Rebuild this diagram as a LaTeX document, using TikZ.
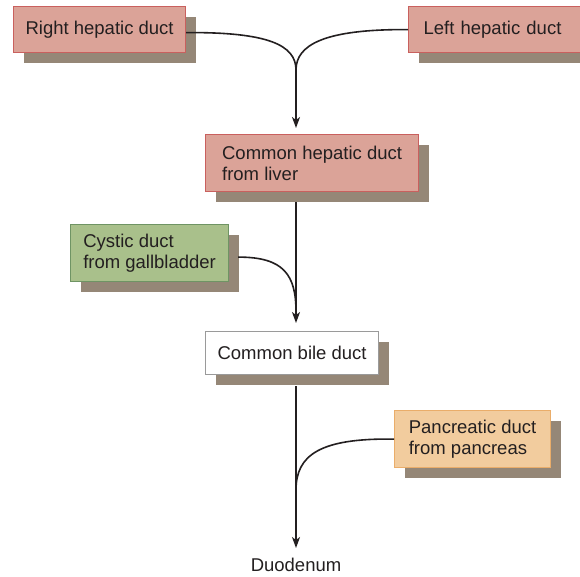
\documentclass[tikz,border=0pt]{standalone}
\usepackage{fontspec}
\setmainfont{Liberation Sans}
\usetikzlibrary{arrows.meta,shadows}

\definecolor{inktext}{HTML}{231F20}
\definecolor{shadowbrown}{HTML}{958777}
\definecolor{liverred}{HTML}{DBA398}
\definecolor{liverline}{HTML}{C9605E}
\definecolor{gallgreen}{HTML}{A9C08B}
\definecolor{gallline}{HTML}{6F9464}
\definecolor{pancorange}{HTML}{F2CC9E}
\definecolor{pancline}{HTML}{EAAD6A}
\definecolor{bileline}{HTML}{9A9A9A}

\begin{document}
\begin{tikzpicture}[x=1pt,y=-1pt,
    font=\fontsize{18.5}{21}\selectfont,
    duct/.style={draw, line width=1.2pt, anchor=north west, inner sep=0pt,
        align=left, text=inktext,
        drop shadow={shadow xshift=10pt, shadow yshift=-10pt, fill=shadowbrown, opacity=1}},
    flow/.style={line width=1.6pt, draw=inktext},
    tip/.style={-{Stealth[length=11pt,width=8pt,inset=3pt]}}]
    \useasboundingbox (0,0) rectangle (580,576);

    % Hepatic ducts
    \node[duct, fill=liverred, draw=liverline, minimum width=172pt, minimum height=46pt] (rhd) at (13,6) {Right hepatic duct};
    \node[duct, fill=liverred, draw=liverline, minimum width=182pt, minimum height=46pt,
        inner xsep=15pt, text width=152pt] (lhd) at (408,6) {Left hepatic duct};
    \node[duct, fill=liverred, draw=liverline, minimum width=213pt, minimum height=57pt] (chd) at (205,134) {Common hepatic duct\\from liver};

    % Gallbladder, bile duct, pancreas
    \node[duct, fill=gallgreen, draw=gallline, minimum width=158pt, minimum height=57pt] (cyst) at (70,224) {Cystic duct\\from gallbladder};
    \node[duct, fill=white, draw=bileline, minimum width=173pt, minimum height=43pt] (cbd) at (205,331) {Common bile duct};
    \node[duct, fill=pancorange, draw=pancline, minimum width=156pt, minimum height=57pt] (panc) at (394,410) {Pancreatic duct\\from pancreas};

    \node[text=inktext, inner sep=0pt] (duo) at (296,565) {Duodenum};

    % Junctions on the main duct
    \coordinate (hepj) at (296,70);
    \coordinate (cysj) at (296,312);
    \coordinate (pancj) at (296,490);

    % Connectors
    \draw[flow] ([yshift=-3pt]rhd.east) .. controls (268,32) and (296,45) .. (hepj);
    \draw[flow] (lhd.west) .. controls (324,29) and (296,45) .. (hepj);
    \draw[flow, tip, shorten >=6pt] (hepj) -- (hepj |- chd.north);
    \draw[flow, tip, shorten <=10pt, shorten >=8pt] (hepj |- chd.south) -- (hepj |- cbd.north);
    \draw[flow] ([xshift=9pt, yshift=-4pt]cyst.east) .. controls (284,257) and (296,275) .. (cysj);
    \draw[flow, tip, shorten <=11pt, shorten >=10pt] (hepj |- cbd.south) -- (duo.north);
    \draw[flow] (panc.west) .. controls (320,438) and (296,455) .. (pancj);
\end{tikzpicture}
\end{document}
